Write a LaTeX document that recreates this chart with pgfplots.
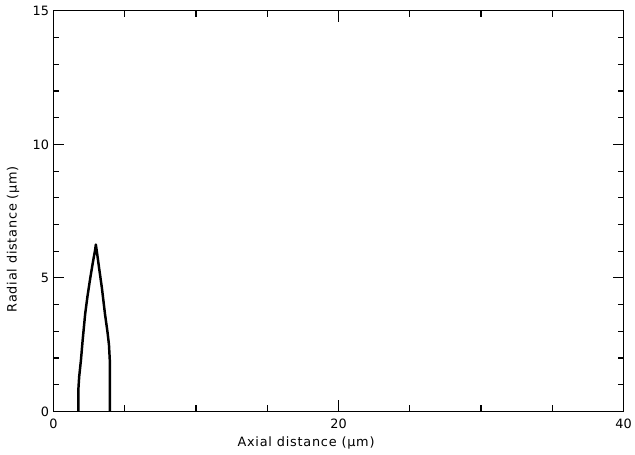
\documentclass[border=0pt]{standalone}
\usepackage{fontspec}
\setmainfont{DejaVu Sans}
\newfontfamily\lblfont[LetterSpace=6]{DejaVu Sans}
\usepackage{pgfplots}
\pgfplotsset{compat=1.18}
\begin{document}
\begin{tikzpicture}[x=1bp,y=1bp]
\begin{axis}[
  scale only axis, width=575bp, height=404bp,
  at={(0,0)}, anchor=south west,
  xmin=0, xmax=40, ymin=0, ymax=15,
  xtick={0,20,40}, ytick={0,5,10,15},
  minor xtick={5,10,15,25,30,35},
  minor ytick={1,2,3,4,6,7,8,9,11,12,13,14},
  tick align=inside, major tick length=11bp, minor tick length=6bp,
  tick style={black, line width=1.1pt},
  axis line style={line width=1.1pt},
  /pgf/number format/assume math mode=true,
  ticklabel style={font=\fontsize{13}{15}\selectfont},
  xticklabel style={yshift=-4bp},
  yticklabel style={xshift=-1bp},
  xlabel={Axial distance (\textmu m)},
  ylabel={Radial distance (\textmu m)},
  label style={font=\lblfont\fontsize{13}{15}\selectfont},
  xlabel style={at={(axis description cs:0.443,0)}, anchor=north, yshift=-22bp},
  ylabel style={at={(axis description cs:0,0.43)}, anchor=south, yshift=31bp},
  clip=false,
]
\addplot[black, line width=2.5pt, line join=round] coordinates {
  (1.74,0) (1.74,0.8) (1.80,1.3) (1.92,1.9) (2.05,2.7) (2.22,3.65) (2.38,4.3)
  (2.55,4.9) (2.75,5.55) (2.92,6.05) (2.97,6.25)
  (3.05,5.95) (3.19,5.4) (3.40,4.6) (3.61,3.65) (3.78,3.0) (3.89,2.5)
  (3.95,1.9) (3.96,1.3) (3.96,0)
};
\end{axis}
\path (-54,-43) rectangle (581,415);
\end{tikzpicture}
\end{document}
